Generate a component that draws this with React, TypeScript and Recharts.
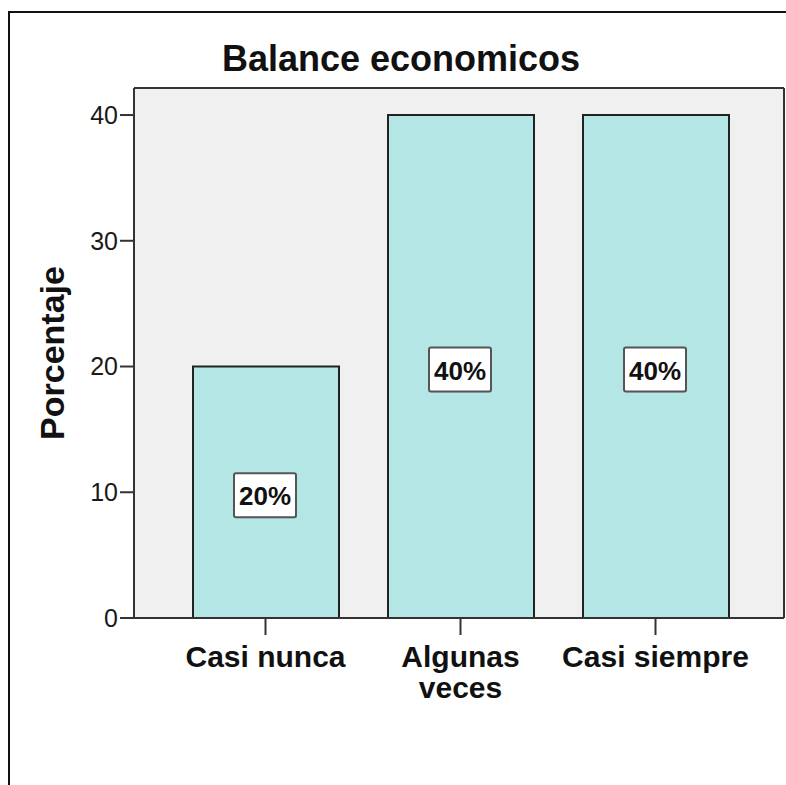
import { Bar, BarChart, CartesianGrid, LabelList, XAxis, YAxis } from 'recharts';

const categories = ['Casi nunca', 'Algunas veces', 'Casi siempre'];
const percentages = [20, 40, 40];
const yTicks = [0, 10, 20, 30, 40];

const data = categories.map((name, i) => ({ name, value: percentages[i] }));

const FONT = '"Liberation Sans", Arial, Helvetica, sans-serif';
const AXIS = '#333333';

// SPSS wraps a label that does not fit its category slot
function splitLabel(label: string) {
  if (label.length <= 12) return [label];
  const cut = label.indexOf(' ');
  return cut < 0 ? [label] : [label.slice(0, cut), label.slice(cut + 1)];
}

function CategoryTick(props: any) {
  const { x, y, payload } = props;
  const lines = splitLabel(String(payload.value));
  return (
    <text
      x={x}
      y={y + 21}
      textAnchor="middle"
      fill="#111111"
      style={{ fontSize: 30, fontWeight: 700, fontFamily: FONT }}
    >
      {lines.map((line, i) => (
        <tspan key={line} x={x} dy={i === 0 ? 0 : 31}>
          {line}
        </tspan>
      ))}
    </text>
  );
}

function PercentBox(props: any) {
  const { x, y, width, height, value } = props;
  const cx = x + width / 2;
  const cy = y + height / 2 + 4;
  return (
    <g>
      <rect x={cx - 31} y={cy - 22} width={62} height={44} rx={2} fill="#888888" opacity={0.35} />
      <rect x={cx - 32} y={cy - 23} width={62} height={44} rx={2} fill="#ffffff" stroke="#555555" strokeWidth={2} />
      <text
        x={cx - 1}
        y={cy + 9}
        textAnchor="middle"
        fill="#111111"
        style={{ fontSize: 26, fontWeight: 700, fontFamily: FONT }}
      >
        {`${value}%`}
      </text>
    </g>
  );
}

export default function App() {
  return (
    <div
      style={{
        position: 'absolute',
        left: 0,
        top: 0,
        width: 786,
        height: 785,
        overflow: 'hidden',
        background: '#ffffff',
        fontFamily: FONT,
      }}
    >
      <div
        style={{
          position: 'absolute',
          left: 8,
          top: 11,
          width: 776,
          height: 772,
          borderLeft: '2px solid #111111',
          borderTop: '2px solid #111111',
        }}
      />
      <div
        style={{
          position: 'absolute',
          left: 0,
          top: 41,
          width: 802,
          textAlign: 'center',
          fontSize: 36,
          lineHeight: '36px',
          fontWeight: 700,
          color: '#111111',
        }}
      >
        Balance economicos
      </div>
      <div style={{ position: 'absolute', left: 0, top: 0 }}>
        <BarChart
          width={786}
          height={785}
          data={data}
          margin={{ top: 87, right: 1, bottom: 67, left: 34 }}
        >
          <CartesianGrid
            xAxisId="bottom"
            yAxisId="left"
            horizontal={false}
            vertical={false}
            fill="#f0f0f0"
            fillOpacity={1}
          />
          <XAxis
            xAxisId="bottom"
            dataKey="name"
            height={100}
            padding={{ left: 34, right: 31 }}
            axisLine={{ stroke: AXIS, strokeWidth: 2 }}
            tickLine={{ stroke: AXIS, strokeWidth: 2 }}
            tickSize={17}
            tickMargin={11}
            tick={<CategoryTick />}
            interval={0}
          />
          <XAxis
            xAxisId="top"
            dataKey="name"
            orientation="top"
            height={1}
            tick={false}
            tickLine={false}
            axisLine={{ stroke: AXIS, strokeWidth: 2 }}
          />
          <YAxis
            yAxisId="left"
            width={100}
            domain={[0, 42.15]}
            ticks={yTicks}
            allowDataOverflow
            axisLine={{ stroke: AXIS, strokeWidth: 2 }}
            tickLine={{ stroke: AXIS, strokeWidth: 2 }}
            tickSize={14}
            tickMargin={2}
            tick={{ fill: '#1a1a1a', fontSize: 25, fontFamily: FONT }}
            label={{
              value: 'Porcentaje',
              angle: -90,
              position: 'insideLeft',
              offset: 18,
              style: { textAnchor: 'middle', fontSize: 34, fontWeight: 700, fill: '#111111', fontFamily: FONT },
            }}
          />
          <YAxis
            yAxisId="right"
            orientation="right"
            width={1}
            tick={false}
            tickLine={false}
            axisLine={{ stroke: AXIS, strokeWidth: 2 }}
          />
          <Bar
            xAxisId="bottom"
            yAxisId="left"
            dataKey="value"
            barSize={146}
            fill="#b4e6e6"
            stroke="#222222"
            strokeWidth={2}
            isAnimationActive={false}
          >
            <LabelList dataKey="value" content={<PercentBox />} />
          </Bar>
        </BarChart>
      </div>
    </div>
  );
}
